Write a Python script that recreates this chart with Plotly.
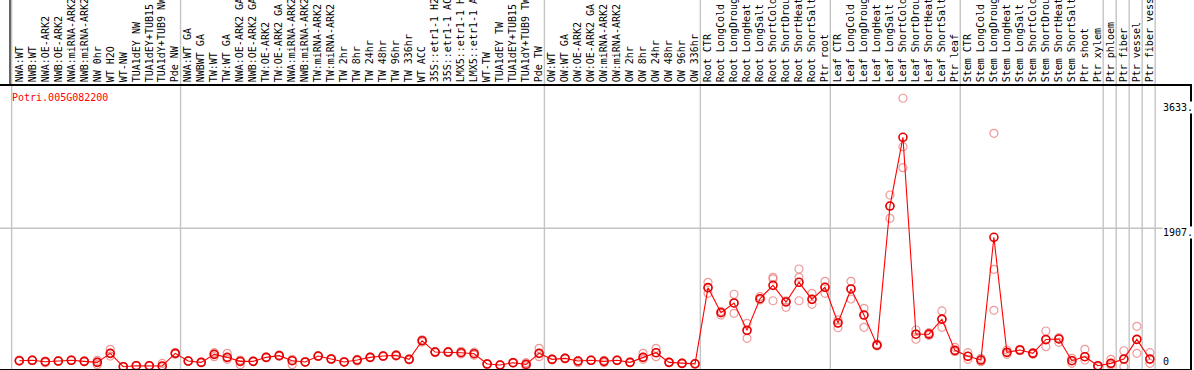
import plotly.graph_objects as go

categories = [
    "NWA:WT", "NWB:WT", "NWA:OE-ARK2", "NWB:OE-ARK2", "NWA:miRNA-ARK2", "NWB:miRNA-ARK2",
    "NW 0hr", "WT H2O", "WT-NW", "TUA1dEY NW", "TUA1dEY+TUB15 NW", "TUA1dY+TUB9 NW", "Pde NW",
    "NWA:WT GA", "NWBWT GA", "TW:WT", "TW:WT GA", "NWA:OE-ARK2 GA", "NWB:OE-ARK2 GA",
    "TW:OE-ARK2", "TW:OE-ARK2 GA", "NWA:miRNA-ARK2", "NWB:miRNA-ARK2", "TW:miRNA-ARK2",
    "TW:miRNA-ARK2 GA", "TW 2hr", "TW 8hr", "TW 24hr", "TW 48hr", "TW 96hr", "TW 336hr",
    "WT ACC", "35S::etr1-1 H2O", "35S::etr1-1 ACC", "LMX5::etr1-1 H2O", "LMX5::etr1-1 ACC",
    "WT-TW", "TUA1dEY TW", "TUA1dEY+TUB15 TW", "TUA1dY+TUB9 TW", "Pde TW",
    "OW:WT", "OW:WT GA", "OW:OE-ARK2", "OW:OE-ARK2 GA", "OW:miRNA-ARK2", "OW:miRNA-ARK2 GA",
    "OW 2hr", "OW 8hr", "OW 24hr", "OW 48hr", "OW 96hr", "OW 336hr",
    "Root CTR", "Root LongCold", "Root LongDrought", "Root LongHeat", "Root LongSalt",
    "Root ShortCold", "Root ShortDrought", "Root ShortHeat", "Root ShortSalt", "Ptr root",
    "Leaf CTR", "Leaf LongCold", "Leaf LongDrought", "Leaf LongHeat", "Leaf LongSalt",
    "Leaf ShortCold", "Leaf ShortDrought", "Leaf ShortHeat", "Leaf ShortSalt", "Ptr leaf",
    "Stem CTR", "Stem LongCold", "Stem LongDrought", "Stem LongHeat", "Stem LongSalt",
    "Stem ShortCold", "Stem ShortDrought", "Stem ShortHeat", "Stem ShortSalt", "Ptr shoot",
    "Ptr xylem", "Ptr phloem", "Ptr fiber", "Ptr vessel", "Ptr fiber vessel",
]

group_sizes = [13, 28, 12, 10, 10, 11, 1, 1, 1, 1]

mean_values = [
    83, 88, 69, 78, 88, 74, 60, 184, 0, 14, 14, 10, 184,
    78, 60, 170, 129, 74, 74, 129, 152, 83, 65, 147, 106, 65, 92, 129, 147, 156, 101,
    358, 202, 202, 193, 179, 37, 23, 55, 32, 184,
    101, 115, 78, 88, 74, 88, 60, 129, 193, 60, 46, 40,
    1089, 744, 878, 501, 937, 1121, 892, 1163, 928, 1094,
    602, 1071, 712, 297, 2214, 3161, 448, 449, 655, 225,
    143, 92, 1783, 198, 230, 184, 375, 382, 83, 138, 14, 46, 106, 377, 106,
]

rep_a = [
    90, 92, 75, 82, 92, 78, 62, 240, 5, 18, 18, 45, 195,
    82, 65, 193, 184, 92, 78, 133, 160, 101, 70, 150, 110, 70, 101, 133, 150, 165, 105,
    370, 210, 210, 212, 200, 42, 28, 60, 55, 253,
    106, 120, 83, 92, 88, 92, 65, 184, 253, 65, 50, 45,
    1163, 758, 998, 598, 965, 1232, 892, 1346, 1011, 1177,
    644, 1177, 805, 310, 2366, 3699, 506, 470, 768, 267,
    193, 115, 3216, 230, 240, 195, 492, 400, 115, 240, 14, 101, 220, 557, 193,
]

rep_b = [
    80, 85, 55, 74, 84, 70, 28, 184, 0, 10, 10, 0, 184,
    74, 55, 170, 129, 70, 70, 125, 145, 83, 60, 140, 100, 60, 80, 125, 140, 147, 96,
    358, 195, 195, 193, 179, 32, 18, 50, 32, 184,
    96, 110, 55, 84, 74, 84, 55, 129, 193, 55, 42, 36,
    1089, 712, 878, 501, 937, 1209, 818, 1232, 928, 1094,
    606, 1071, 712, 299, 2214, 3032, 450, 451, 653, 207,
    143, 92, 1342, 198, 230, 184, 368, 382, 83, 138, 5, 46, 101, 377, 101,
]

rep_c = [
    78, 86, 76, 78, 88, 74, 88, 147, 0, 14, 14, 0, 172,
    78, 60, 138, 101, 28, 74, 129, 152, 28, 65, 147, 106, 65, 92, 129, 147, 156, 101,
    340, 202, 202, 175, 158, 37, 23, 55, 10, 138,
    101, 115, 78, 88, 55, 88, 60, 101, 138, 60, 46, 40,
    1011, 760, 736, 391, 919, 909, 909, 909, 860, 1011,
    537, 933, 543, 285, 2045, 2742, 378, 430, 543, 220,
    101, 69, 777, 171, 220, 172, 276, 336, 46, 92, 0, 23, 0, 184, 46,
]

gene_id = "Potri.005G082200"
right_tick_values = [3633, 1907, 0]
right_tick_labels = ["3633.", "1907.", "0"]

# ---- geometry ----
W, H = 1194, 370
ML, MR, MT, MB = 0, 4, 86, 1
plot_w = W - ML - MR
plot_h = H - MT - MB
x_range = [-1.4851, 90.09]
y_range = [-31.7, 3868]

idx = list(range(len(categories)))
mono = "DejaVu Sans Mono"
grey = "#c4c4c4"


def xpaper(v):
    return (v - x_range[0]) / (x_range[1] - x_range[0])


fig = go.Figure()
for reps in (rep_a, rep_b, rep_c):
    fig.add_trace(go.Scatter(
        x=idx, y=reps, mode="markers", cliponaxis=False,
        marker=dict(symbol="circle-open", size=8, color="rgba(232,120,120,0.75)",
                    line=dict(width=1.2)),
        hoverinfo="skip", showlegend=False,
    ))
fig.add_trace(go.Scatter(
    x=idx, y=mean_values, mode="lines+markers", cliponaxis=False,
    line=dict(color="#ff0000", width=1.1),
    marker=dict(symbol="circle-open", size=8, color="#e60000", line=dict(width=1.6)),
    showlegend=False,
))

shapes = []
# separators between groups (including before the first)
bounds = [-1]
acc = -1
for g in group_sizes:
    acc += g
    bounds.append(acc)
for b in bounds:
    xp = xpaper(b + 0.41)
    shapes.append(dict(type="line", xref="paper", yref="paper", x0=xp, x1=xp,
                       y0=-0.01, y1=1 + MT / plot_h, line=dict(color=grey, width=1.4),
                       layer="below"))
# horizontal grid at middle tick
shapes.append(dict(type="line", xref="paper", yref="y", x0=0, x1=1,
                   y0=right_tick_values[1], y1=right_tick_values[1],
                   line=dict(color=grey, width=1.4), layer="below"))
# label area left border
shapes.append(dict(type="line", xref="paper", yref="paper", x0=10 / plot_w, x1=10 / plot_w,
                   y0=1, y1=1 + MT / plot_h, line=dict(color="black", width=1.2)))

annotations = [dict(text=gene_id, xref="paper", yref="paper", x=10 / plot_w,
                    y=1 - 11 / plot_h, xanchor="left", yanchor="middle", showarrow=False,
                    font=dict(family=mono, size=10, color="#ff0000"))]
for v, t in zip(right_tick_values, right_tick_labels):
    shift = 5 if v == 0 else -4
    annotations.append(dict(text=t, xref="paper", yref="y", x=1162 / plot_w, y=v,
                            xanchor="left", yanchor="middle", yshift=shift,
                            showarrow=False, bgcolor="white", borderpad=0,
                            font=dict(family=mono, size=10, color="black")))

fig.update_layout(
    width=W, height=H,
    margin=dict(l=ML, r=MR, t=MT, b=MB, pad=0, autoexpand=False),
    paper_bgcolor="white", plot_bgcolor="white",
    shapes=shapes, annotations=annotations,
    xaxis=dict(range=x_range, side="top", tickmode="array", tickvals=idx,
               ticktext=categories, tickangle=-90, ticks="", automargin=False,
               tickfont=dict(family=mono, size=10, color="black"),
               showgrid=False, zeroline=False, showline=True, mirror=True,
               linecolor="black", linewidth=1.5),
    yaxis=dict(range=y_range, showticklabels=False, ticks="", showgrid=False,
               automargin=False,
               zeroline=False, showline=True, mirror=True, linecolor="black",
               linewidth=1.5),
)

fig.write_html("out.html", config={"displayModeBar": False},
               post_script="document.body.style.margin='0';document.body.style.padding='0';")
